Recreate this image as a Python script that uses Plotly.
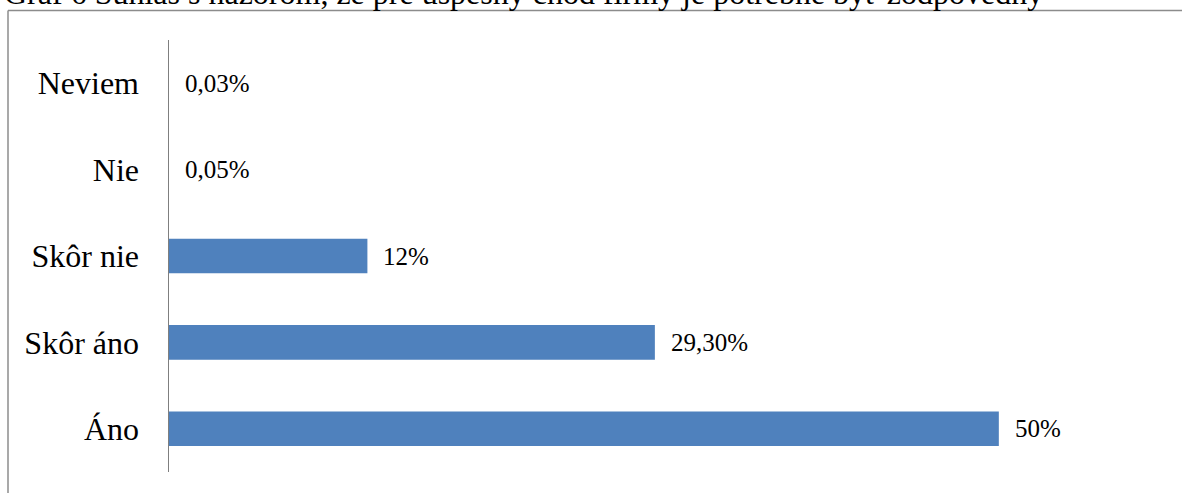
import plotly.graph_objects as go

categories = ["Áno", "Skôr áno", "Skôr nie", "Nie", "Neviem"]
values = [50, 29.3, 12, 0.05, 0.03]
labels = ["50%", "29,30%", "12%", "0,05%", "0,03%"]
title_text = "Graf 6 Súhlas s názorom, že pre úspešný chod firmy je potrebné byť zodpovedný"

W, H = 1182, 493
L, R, T, B = 168, 17, 40, 21
pw, ph = W - L - R, H - T - B

def px_x(p):
    return (p - L) / pw

def px_y(p):
    return (H - B - p) / ph

fig = go.Figure(go.Bar(
    x=values, y=categories, orientation="h",
    marker=dict(color="#4F81BD", line=dict(width=0)),
    width=0.4, hoverinfo="skip",
))

annotations = [
    dict(x=v, y=c, xref="x", yref="y", text=t, showarrow=False,
         xanchor="left", yanchor="middle", xshift=14,
         font=dict(family="Liberation Serif", size=25, color="#000"))
    for c, v, t in zip(categories, values, labels)
]
annotations.append(dict(
    x=px_x(2), y=px_y(13.5), xref="paper", yref="paper", text=title_text,
    showarrow=False, xanchor="left", yanchor="bottom",
    font=dict(family="Liberation Serif", size=32, color="#000"),
))

shapes = [
    dict(type="line", xref="paper", yref="paper",
         x0=px_x(8), x1=px_x(1200), y0=px_y(10.5), y1=px_y(10.5),
         line=dict(color="#8c8c8c", width=1.5)),
    dict(type="line", xref="paper", yref="paper",
         x0=px_x(8), x1=px_x(8), y0=px_y(10.5), y1=px_y(520),
         line=dict(color="#8c8c8c", width=1.5)),
    dict(type="line", xref="x", yref="paper", layer="above",
         x0=0, x1=0, y0=0, y1=1,
         line=dict(color="#7f7f7f", width=2)),
]

fig.update_layout(
    width=W, height=H,
    margin=dict(l=L, r=R, t=T, b=B, pad=0),
    paper_bgcolor="white", plot_bgcolor="white",
    showlegend=False,
    annotations=annotations, shapes=shapes,
    xaxis=dict(range=[0, 60], visible=False, fixedrange=True),
    yaxis=dict(
        categoryorder="array", categoryarray=categories,
        showline=False, showgrid=False, zeroline=False, ticks="",
        ticklabelstandoff=28,
        tickfont=dict(family="Liberation Serif", size=32, color="#000"),
        range=[-0.5, 4.5], fixedrange=True,
    ),
)

fig.write_html("out.html", config={"displayModeBar": False},
               post_script="document.body.style.margin='0';document.body.style.overflow='hidden';")
